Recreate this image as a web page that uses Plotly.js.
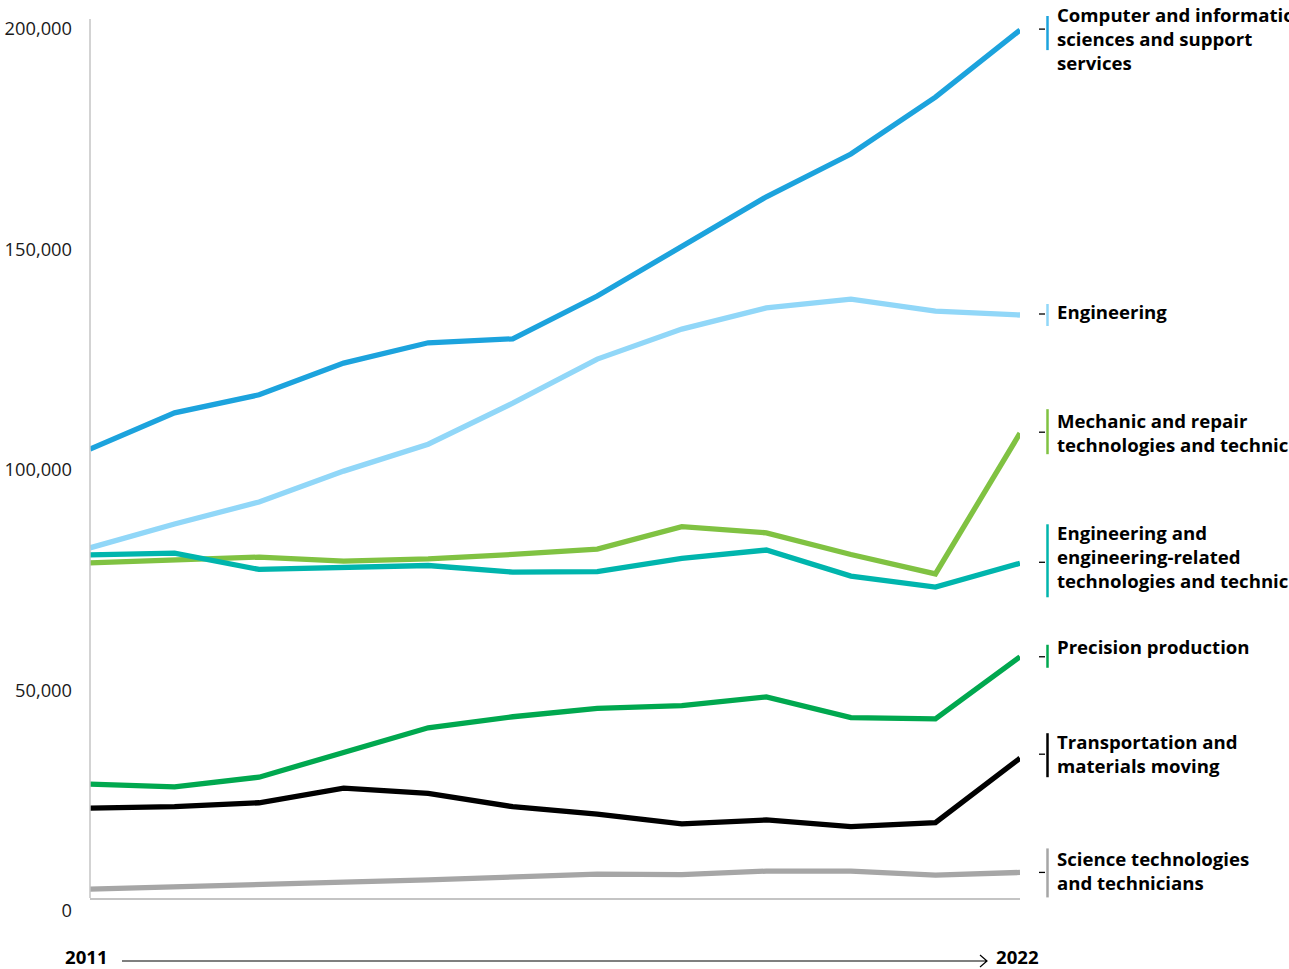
<!DOCTYPE html>
<html><head><meta charset="utf-8">
<script src="https://cdn.plot.ly/plotly-3.0.1.min.js"></script>
<style>html,body{margin:0;padding:0;background:#fff}#chart{width:1289px;height:969px}</style>
</head><body><div id="chart"></div>
<script>
const years = [2011,2012,2013,2014,2015,2016,2017,2018,2019,2020,2021,2022];
const computerInfo   = [101800,110000,114100,121300,125900,126800,136500,147600,159000,168700,181600,196800];
const engineering    = [79400,84800,89800,96800,102900,112200,122200,129000,133800,135800,133100,132200];
const mechanicRepair = [76000,76600,77300,76400,76900,77900,79100,84200,82800,77900,73500,105400];
const engRelated     = [77800,78200,74500,75100,75400,73900,74000,77000,78900,73000,70500,75900];
const precisionProd  = [25800,25200,27400,32900,38600,41100,43000,43600,45600,40900,40600,54700];
const transportation = [20400,20700,21600,24900,23700,20700,19000,16800,17700,16200,17100,31700];
const scienceTech    = [2000,2600,3200,3600,4100,4800,5400,5300,6100,6100,5200,5800];

const seriesValues = [computerInfo, engineering, mechanicRepair, engRelated, precisionProd, transportation, scienceTech];
const seriesLabels = [
  "Computer and information<br>sciences and support<br>services",
  "Engineering",
  "Mechanic and repair<br>technologies and technicians",
  "Engineering and<br>engineering-related<br>technologies and technicians",
  "Precision production",
  "Transportation and<br>materials moving",
  "Science technologies<br>and technicians"
];
const yTickVals = [0,50000,100000,150000,200000];
const yearLabels = ["2011","2022"];

const colors = ["#1ca3dd","#91d7f8","#80c242","#00b5ad","#00a84f","#000000","#a6a6a6"];
const textShift = [-8.5,4,1,6.5,10.5,5,2];
const barUp   = [24,11,24,39,12,25,24];
const barDown = [20,11,21,34,11,19,25];
const tickDy  = [1,1,1,1,0,4,0];

const W = 930, H = 882, L = 90, T = 16;
const px2x = p => (p - L) / W;
const py2y = p => (T + H - p) / H;

const traces = seriesValues.map((v,i) => ({
  x: years, y: v, type: 'scatter', mode: 'lines',
  line: {color: colors[i], width: 5.3},
  hoverinfo: 'x+y', showlegend: false
}));

const shapes = [];
const annotations = [];
seriesValues.forEach((v,i) => {
  const last = v[v.length-1];
  shapes.push({type:'line', xref:'paper', yref:'y', ysizemode:'pixel', yanchor:last,
    x0:px2x(1039), x1:px2x(1045), y0:tickDy[i], y1:tickDy[i], line:{color:'#000', width:1.3}});
  shapes.push({type:'line', xref:'paper', yref:'y', ysizemode:'pixel', yanchor:last,
    x0:px2x(1047.5), x1:px2x(1047.5), y0:-barDown[i], y1:barUp[i], line:{color:colors[i], width:2.5}});
  annotations.push({xref:'paper', yref:'y', x:px2x(1055), y:last, xanchor:'left', yanchor:'middle',
    yshift:textShift[i], align:'left', showarrow:false, text:'<b>'+seriesLabels[i]+'</b>',
    font:{family:'Open Sans', size:18.6, color:'#000'}});
});
// y axis line (stops just below the top of plot)
shapes.push({type:'line', xref:'paper', yref:'paper', x0:0, x1:0, y0:0, y1:py2y(19), line:{color:'#c4c4c4', width:1.5}});
// time arrow
shapes.push({type:'path', xref:'paper', yref:'paper',
  path:`M${px2x(122)},${py2y(961)} L${px2x(987)},${py2y(961)} M${px2x(980)},${py2y(955)} L${px2x(987)},${py2y(961)} L${px2x(980)},${py2y(967)}`,
  line:{color:'#000', width:1.2}});
annotations.push({xref:'paper', yref:'paper', x:px2x(86), y:py2y(957), xanchor:'center', yanchor:'middle',
  showarrow:false, text:'<b>'+yearLabels[0]+'</b>', font:{family:'Open Sans', size:18.6, color:'#000'}});
annotations.push({xref:'paper', yref:'paper', x:px2x(1017), y:py2y(957), xanchor:'center', yanchor:'middle',
  showarrow:false, text:'<b>'+yearLabels[1]+'</b>', font:{family:'Open Sans', size:18.6, color:'#000'}});

const layout = {
  width:1289, height:969,
  margin:{l:L, r:1289-L-W, t:T, b:969-T-H, pad:0},
  paper_bgcolor:'#fff', plot_bgcolor:'#fff',
  font:{family:'Open Sans', color:'#1a1a1a'},
  xaxis:{range:[2011,2022], showgrid:false, zeroline:false, showticklabels:false, ticks:'',
    showline:true, linecolor:'#c4c4c4', linewidth:2},
  yaxis:{range:[0,200000], tickvals:yTickVals, tickformat:',d', showgrid:false, zeroline:false,
    showline:false, ticks:'', ticklabelshift:13, ticklabelstandoff:17,
    tickfont:{family:'Open Sans', size:18.3, color:'#1a1a1a'}},
  shapes: shapes, annotations: annotations, showlegend:false
};
Plotly.newPlot('chart', traces, layout, {displayModeBar:false, staticPlot:true});
</script></body></html>
